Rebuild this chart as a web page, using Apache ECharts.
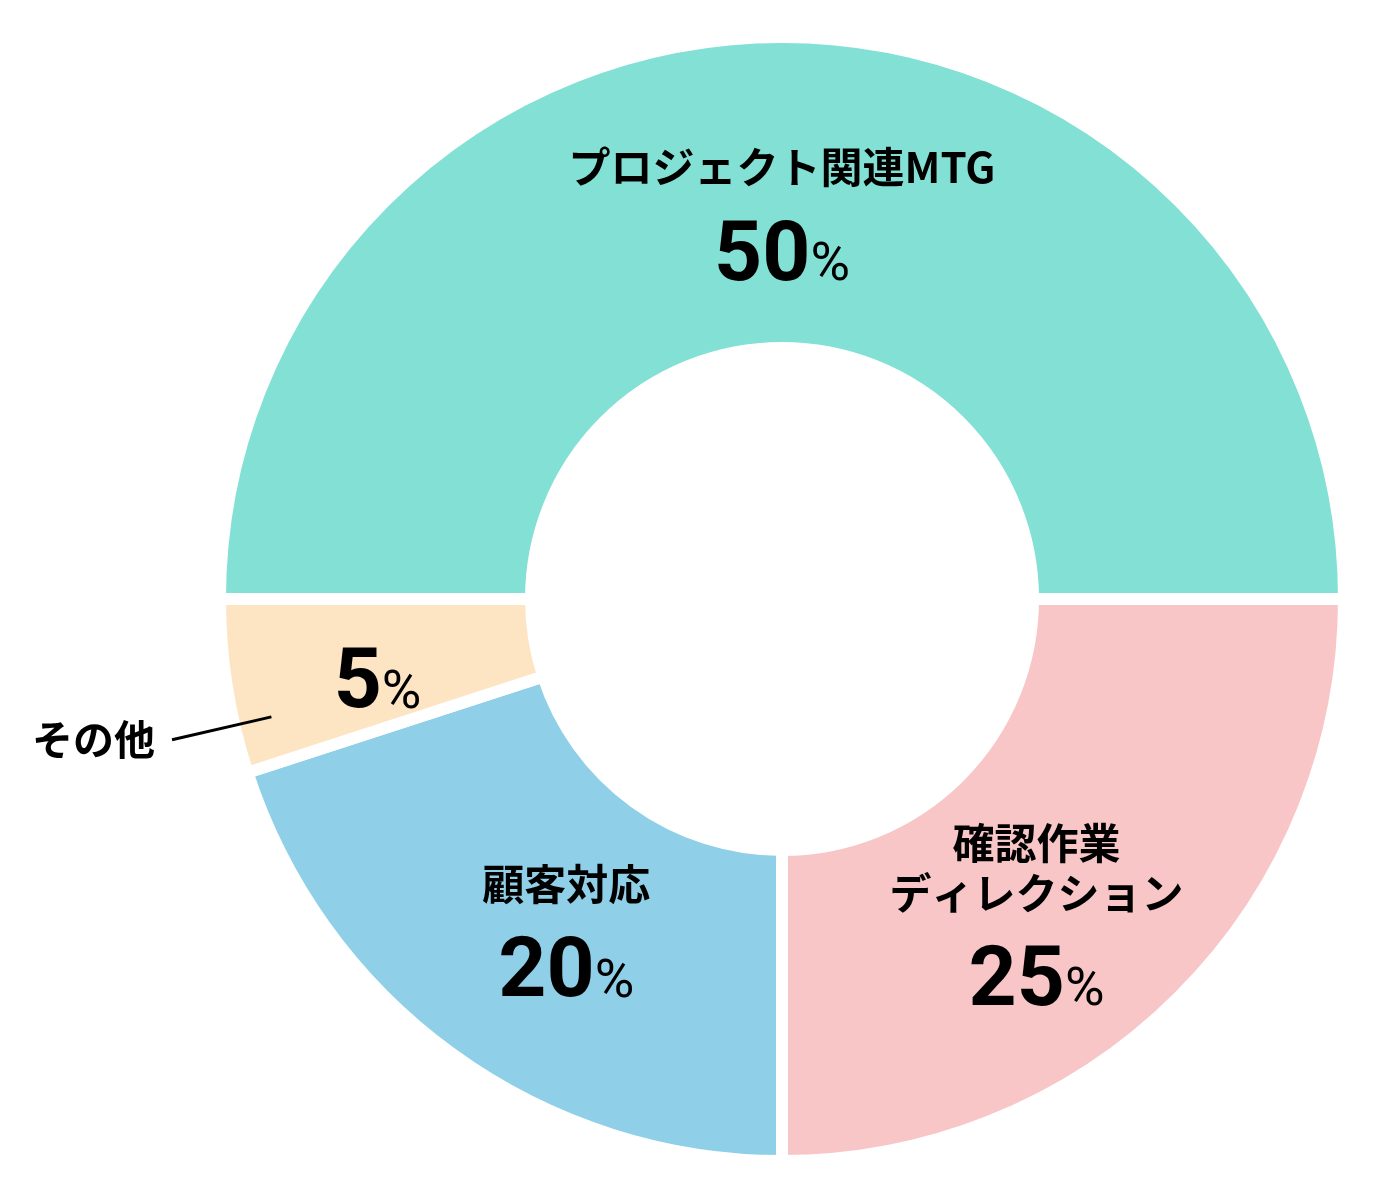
<!DOCTYPE html>
<html>
<head>
<meta charset="utf-8">
<script src="https://cdn.jsdelivr.net/npm/echarts@6/dist/echarts.min.js"></script>
<style>
html, body { margin: 0; background: #fff; }
#main { width: 1380px; height: 1204px; }
</style>
</head>
<body>
<div id="main"></div>
<script>
// 業務時間の内訳
var names = ['プロジェクト関連MTG', '確認作業\nディレクション', '顧客対応', 'その他'];
var values = [50, 25, 20, 5];
var colors = ['#82e0d4', '#f8c6c6', '#8fd0e8', '#fde4c3'];
// その他 は名前を外側に出す
var outsideIndex = 3;

var chart = echarts.init(document.getElementById('main'));

// ラベル位置の微調整
var labelShift = [[0, 32], [-35, 33], [25, 8], [0, 11]];

var pieData = [];
var outerData = [];
for (var i = 0; i < values.length; i++) {
    pieData.push({ name: names[i], value: values[i] });
    outerData.push({
        name: names[i],
        value: values[i],
        label: { show: i === outsideIndex },
        labelLine: { show: i === outsideIndex }
    });
}

var option = {
    animation: false,
    color: colors,
    series: [
        {
            type: 'pie',
            center: [782, 599],
            radius: [251, 562],
            startAngle: 180,
            clockwise: true,
            avoidLabelOverlap: false,
            emphasis: { disabled: true },
            itemStyle: {
                borderColor: '#fff',
                borderWidth: 12
            },
            label: {
                show: true,
                position: 'inside',
                color: '#000',
                formatter: function (p) {
                    var s = '';
                    if (p.dataIndex !== outsideIndex) {
                        s = p.name.split('\n').map(function (l) {
                            return '{n|' + l + '}';
                        }).join('\n') + '\n';
                    }
                    return s + '{v|' + p.value + '}{p|%}';
                },
                rich: {
                    n: {
                        fontFamily: 'Noto Sans CJK JP',
                        fontWeight: 'bold',
                        fontSize: 42,
                        lineHeight: 50,
                        color: '#000'
                    },
                    v: {
                        fontFamily: 'Roboto, sans-serif',
                        fontWeight: 'bold',
                        fontSize: 84,
                        lineHeight: 108,
                        verticalAlign: 'bottom',
                        color: '#000'
                    },
                    p: {
                        fontFamily: 'Roboto, sans-serif',
                        fontWeight: 'normal',
                        fontSize: 54,
                        lineHeight: 108,
                        verticalAlign: 'bottom',
                        padding: [0, 0, 7, 0],
                        color: '#000'
                    }
                }
            },
            labelLayout: function (params) {
                var s = labelShift[params.dataIndex];
                return { dx: s[0], dy: s[1] };
            },
            data: pieData
        },
        {
            // その他 の外側ラベル用
            type: 'pie',
            z: 3,
            center: [782, 599],
            radius: [0, 524],
            startAngle: 184,
            clockwise: true,
            silent: true,
            avoidLabelOverlap: false,
            itemStyle: { color: 'transparent' },
            label: {
                position: 'outside',
                distanceToLabelLine: 17,
                color: '#000',
                fontFamily: 'Noto Sans CJK JP',
                fontWeight: 'bold',
                fontSize: 41
            },
            labelLine: {
                length: 102,
                length2: 0,
                lineStyle: { color: '#000', width: 3 }
            },
            data: outerData
        }
    ]
};

chart.setOption(option);
window.addEventListener('resize', function () {
    chart.resize();
});
</script>
</body>
</html>
